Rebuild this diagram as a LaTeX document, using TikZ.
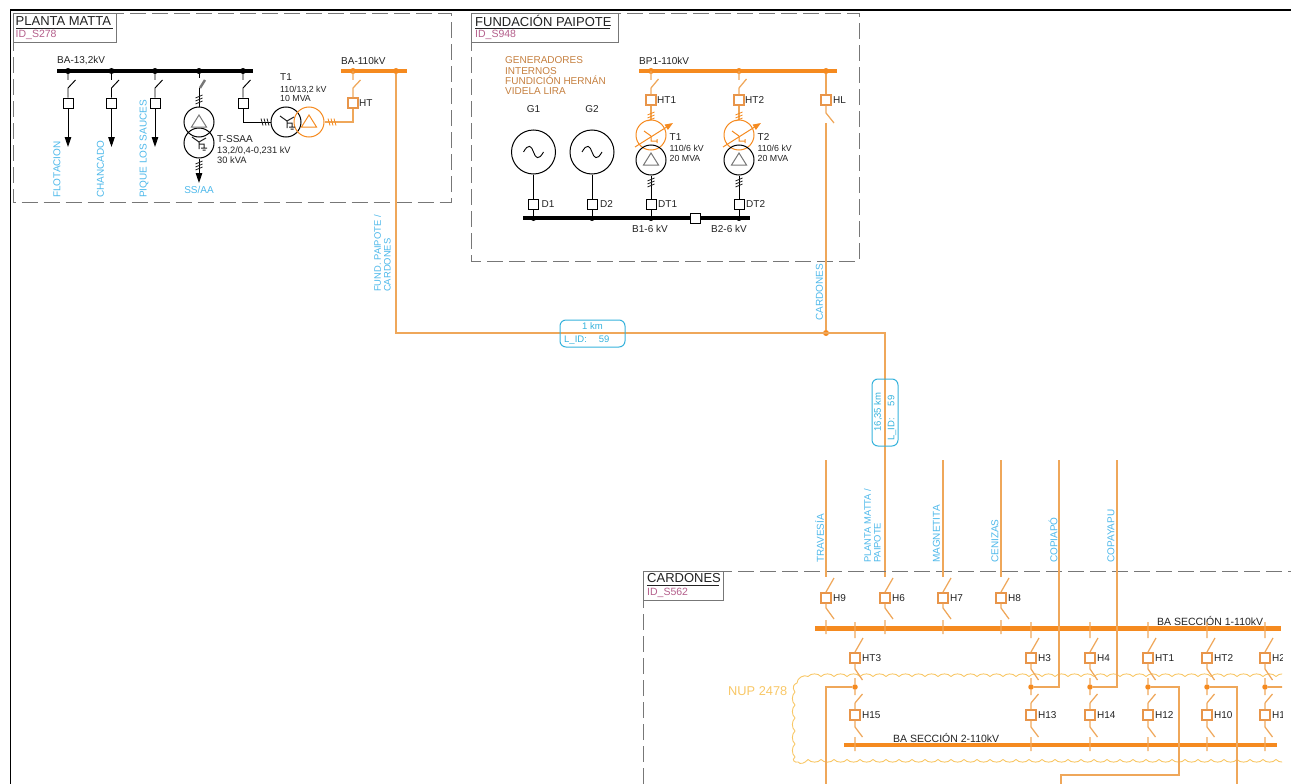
\documentclass[tikz,border=0pt]{standalone}
\usepackage{fontspec}
\setmainfont{Liberation Sans}
\usetikzlibrary{arrows.meta}
\definecolor{lineor}{HTML}{EFA75A}
\definecolor{busor}{HTML}{F58A1F}
\definecolor{txtor}{HTML}{E8954A}
\definecolor{cloudor}{HTML}{F8C766}
\definecolor{blu}{HTML}{4DB8EA}
\definecolor{tagblu}{HTML}{35B2DC}
\definecolor{pnk}{HTML}{B5608C}
\definecolor{gry}{HTML}{777777}
\definecolor{dark}{HTML}{222222}
\newcommand{\fs}[2][]{\fontsize{#2}{#2}\selectfont}
\tikzset{
  x=1pt,y=-1pt,
  lbl/.style={inner sep=0pt,text=dark,font=\fs{10},anchor=west},
  sublbl/.style={inner sep=0pt,text=dark,font=\fontsize{8.8}{9.8}\selectfont,anchor=north west,align=left},
  bluelbl/.style={inner sep=0pt,text=blu,font=\fs{10},rotate=90,anchor=west},
  brk/.style={draw=black,fill=white,line width=0.95pt,minimum size=10pt,inner sep=0pt},
  brkor/.style={draw=txtor,fill=white,line width=1.25pt,minimum size=10pt,inner sep=0pt},
  wire/.style={draw=#1,line width=1.25pt},
  zone/.style={draw=gry,line width=0.9pt,dash pattern=on 16pt off 6pt},
  titlebox/.style={draw=gry,fill=white,line width=0.9pt},
  title/.style={inner sep=0pt,text=dark,font=\fs{13},anchor=west},
  idtxt/.style={inner sep=0pt,text=pnk,font=\fs{10.5},anchor=west},
  busblk/.style={draw=black,line width=3.4pt},
  busora/.style={draw=busor,line width=3.4pt},
  busbig/.style={draw=busor,line width=4.4pt},
  dot/.style={circle,fill=#1,inner sep=0pt,minimum size=6pt},
  tag/.style={draw=tagblu,line width=1pt,rounded corners=6pt,inner sep=0pt},
  tagtxt/.style={inner sep=0pt,text=tagblu,font=\fs{9.5}},
  arr/.style={draw=black,line width=0.95pt,-{Triangle[length=10pt,width=6.5pt]}},
  cloud/.style={draw=cloudor,line width=0.9pt},
}
\newcommand{\vticks}[3]{\draw[#3,line width=0.8pt] (#1-3.5,#2-1) -- (#1+3.5,#2-4) (#1-3.5,#2+2) -- (#1+3.5,#2-1) (#1-3.5,#2+5) -- (#1+3.5,#2+2);}
\newcommand{\hticks}[3]{\draw[#3,line width=0.8pt] (#1-3,#2-3.5) -- (#1-1,#2+3.5) (#1,#2-3.5) -- (#1+2,#2+3.5) (#1+3,#2-3.5) -- (#1+5,#2+3.5);}
\newcommand{\delt}[3]{\draw[#3,line width=1pt] (#1,#2-7) -- (#1+7.5,#2+5) -- (#1-7.5,#2+5) -- cycle;}
\newcommand{\wye}[3]{\draw[#3,line width=1pt] (#1-7,#2-6) -- (#1,#2-1) -- (#1+7,#2-5) (#1,#2-1) -- (#1,#2+6) (#1,#2+1) -- (#1+5,#2+1) -- (#1+5,#2+5) (#1+2,#2+5) -- (#1+8,#2+5) (#1+3.5,#2+7) -- (#1+6.5,#2+7);}
\newcommand{\sw}[4]{\draw[line width=0.95pt,#4] (#1,#2) -- (#1,#2+9) (#1,#2+17) -- (#1+7.5,#2+9) (#1,#2+17) -- (#3.north);}
\begin{document}
\begin{tikzpicture}
\useasboundingbox (0,0) rectangle (1291,784);
\coordinate (frameA) at (10.5,784);
\coordinate (frameB) at (10.5,10);
\coordinate (frameC) at (1291,10);
\draw[black,line width=1.6pt] (frameA) -- (frameB) -- (frameC);

%% PLANTA MATTA
\draw[zone] (13,13) rectangle (451,202.5);
\draw[titlebox] (13,13) rectangle (116,42);
\node[title] (pmT) at (15.5,21) {PLANTA MATTA};
\draw[dark,line width=0.9pt] (16,28) -- (113,28);
\node[idtxt] (pmI) at (15.5,34.5) {ID\_S278};
\node[lbl] (bus13l) at (57,61) {BA-13,2kV};
\coordinate (b13a) at (57,71); \coordinate (b13b) at (253,71);
\draw[busblk] (b13a) -- (b13b);
\foreach \x/\n in {68/a,111.5/b,155/c,199/d,243/e}{\node[dot=black] (bk\n) at (\x,71) {};}
\foreach \x/\n in {68/a,111.5/b,155/c}{
  \node[brk] (pm\n) at (\x,103) {};
  \sw{\x}{71}{pm\n}{black}
  \coordinate (pmend\n) at (\x,147);
  \draw[arr] (pm\n.south) -- (pmend\n);
}
\node[brk] (pme) at (243,103) {};
\sw{243}{71}{pme}{black}
\node[bluelbl] (fl1) at (57,198) {FLOTACION};
\node[bluelbl] (fl2) at (100.5,198) {CHANCADO};
\node[bluelbl] (fl3) at (144,198) {PIQUE LOS SAUCES};
% T-SSAA
\node[circle,draw=black,line width=1pt,minimum size=30pt,inner sep=0pt] (ss1) at (199,122) {};
\node[circle,draw=black,line width=1pt,minimum size=30pt,inner sep=0pt] (ss2) at (199,143) {};
\delt{199}{122}{gry}
\wye{199}{143}{dark}
\draw[black,line width=0.95pt] (bkd) -- (199,78);
\draw[gry,line width=2.4pt] (200,88) -- (205,80);
\draw[black,line width=0.95pt] (199,88) -- (ss1.north);
\vticks{199}{99}{dark}
\coordinate (ssend) at (199,183);
\draw[arr] (ss2.south) -- (ssend);
\vticks{199}{165}{dark}
\node[inner sep=0pt,text=blu,font=\fs{10}] (ssl) at (199,189.5) {SS/AA};
\node[lbl] (tss) at (217,139) {T-SSAA};
\node[sublbl,font=\fontsize{9.3}{10.3}\selectfont] (tssd) at (217,146.5) {13,2/0,4-0,231 kV\\30 kVA};
% T1 Planta
\node[circle,draw=black,line width=1pt,minimum size=30pt,inner sep=0pt] (pt1) at (286,122) {};
\node[circle,draw=busor,line width=1pt,minimum size=30pt,inner sep=0pt] (pt2) at (309,122) {};
\wye{287}{122}{dark}
\delt{309}{122}{busor}
\draw[black,line width=0.95pt] (pme.south) |- (pt1.west);
\hticks{264}{122}{dark}
\node[lbl] (pt1l) at (280,77.5) {T1};
\node[sublbl] (pt1d) at (280,85.5) {110/13,2 kV\\10 MVA};
\node[lbl] (bus110l) at (341,61) {BA-110kV};
\coordinate (b110a) at (341,71); \coordinate (b110b) at (407,71);
\draw[busora] (b110a) -- (b110b);
\node[dot=busor] (o1) at (353,71) {};
\node[dot=busor] (o2) at (396,71) {};
\node[brkor] (pmht) at (353,103) {};
\sw{353}{71}{pmht}{wire=lineor}
\draw[wire=lineor] (pt2.east) -| (pmht.south);
\hticks{331}{122}{busor}
\node[lbl] (pmhtl) at (359,103) {HT};

%% FUNDACION PAIPOTE
\draw[zone] (471,13) rectangle (859,261);
\draw[titlebox] (471,13) rectangle (618,42);
\node[title] (fpT) at (475,21) {FUNDACIÓN PAIPOTE};
\draw[dark,line width=0.9pt] (475,28) -- (610,28);
\node[idtxt] (fpI) at (475,34.5) {ID\_S948};
\node[inner sep=0pt,text=txtor!85!black,font=\fontsize{10}{10.4}\selectfont,align=left,anchor=north west] (gen) at (505,56.5) {GENERADORES\\INTERNOS\\FUNDICIÓN HERNÁN\\VIDELA LIRA};
\node[inner sep=0pt,text=dark,font=\fs{10}] (g1l) at (533.5,109) {G1};
\node[inner sep=0pt,text=dark,font=\fs{10}] (g2l) at (592,109) {G2};
\foreach \x/\n in {533.5/1,592/2}{
  \node[circle,draw=black,line width=1pt,minimum size=44pt,inner sep=0pt] (g\n) at (\x,152) {};
  \draw[black,line width=0.9pt] (\x-10,152) .. controls (\x-5,143) and (\x-2,146) .. (\x,152) .. controls (\x+2,158) and (\x+5,161) .. (\x+10,152);
  \node[brk] (d\n) at (\x,204) {};
  \node[lbl] (d\n l) at (\x+8,204) {D\n};
  \draw[black,line width=0.95pt] (g\n.south) -- (d\n.north);
}
\coordinate (b6a) at (523,218); \coordinate (b6b) at (750,218);
\draw[busblk] (b6a) -- (b6b);
\node[brk] (tie) at (695,218) {};
\foreach \x/\n in {533.5/1,592/2,651/3,739/4}{\node[dot=black,minimum size=5pt] (bb\n) at (\x,218.5) {};}
\draw[black,line width=0.95pt] (d1.south) -- (bb1) (d2.south) -- (bb2);
\node[lbl] (b16) at (632,228.5) {B1-6 kV};
\node[lbl] (b26) at (711,228.5) {B2-6 kV};
\node[lbl] (bp1l) at (639,61) {BP1-110kV};
\coordinate (bp1a) at (639,71); \coordinate (bp1b) at (837,71);
\draw[busora] (bp1a) -- (bp1b);
\foreach \x/\n/\bb in {651/1/3,739/2/4}{
  \node[dot=busor] (bo\n) at (\x,71) {};
  \node[brkor] (ht\n) at (\x,100) {};
  \node[lbl] (ht\n l) at (\x+6,100) {HT\n};
  \draw[wire=lineor] (\x,71) -- (\x,80) (\x,88) -- (\x+7.5,79) (\x,88) -- (ht\n.north);
  \node[circle,draw=busor,line width=1pt,minimum size=30pt,inner sep=0pt] (to\n) at (\x,135) {};
  \node[circle,draw=black,line width=1pt,minimum size=30pt,inner sep=0pt] (tb\n) at (\x,160) {};
  \draw[wire=lineor] (ht\n.south) -- (to\n.north);
  \vticks{\x}{116}{busor}
  \draw[busor,line width=1pt,-{Triangle[length=8pt,width=6pt]}] (\x-16,147) -- (\x+22,123);
  \draw[busor,line width=1pt] (\x-7,131) -- (\x,136) (\x,136) -- (\x,141) -- (\x+6,141) (\x+6,139) -- (\x+6,143);
  \delt{\x}{160}{gry}
  \node[brk] (dt\n) at (\x,204) {};
  \node[lbl] (dt\n l) at (\x+7,204) {DT\n};
  \draw[black,line width=0.95pt] (tb\n.south) -- (dt\n.north) (dt\n.south) -- (bb\bb);
  \vticks{\x}{182}{dark}
  \node[lbl] (t\n l) at (\x+18.5,137) {T\n};
  \node[sublbl] (t\n d) at (\x+18.5,145) {110/6 kV\\20 MVA};
}
\node[dot=busor] (bo3) at (826,71) {};
\node[brkor] (hl) at (826,100) {};
\node[lbl] (hll) at (833,100) {HL};
\draw[wire=lineor] (bo3) -- (hl.north);
\draw[wire=lineor] (hl.south) -- (826,113) -- (834,123);
\coordinate (cd1) at (826,123);
\node[dot=busor] (cdj) at (826,333) {};
\draw[wire=lineor] (cd1) -- (cdj);
\node[bluelbl] (cdl) at (819.5,321) {CARDONES};

%% lines between substations
\coordinate (bend1) at (396,333);
\coordinate (bend2) at (885,333);
\coordinate (h6top) at (885,577);
\draw[wire=lineor] (o2) -- (bend1) -- (bend2) -- (h6top);
\node[inner sep=0pt,text=blu,font=\fontsize{9.4}{9.8}\selectfont,align=left,rotate=90,anchor=south west] (fund) at (391,292) {FUND. PAIPOTE /\\CARDONES};
\node[tag,minimum width=65pt,minimum height=27pt] (tag1) at (592.5,333.5) {};
\node[tagtxt] (tag1a) at (592.5,326) {1 km};
\node[tagtxt,anchor=west] (tag1b) at (564,340.5) {L\_ID:\hspace{12pt}59};
\node[tag,rotate=90,minimum width=67pt,minimum height=26pt] (tag2) at (885,412.5) {};
\node[tagtxt,rotate=90] (tag2a) at (878,412) {16,35 km};
\node[tagtxt,rotate=90,anchor=west] (tag2b) at (892,441) {L\_ID:\hspace{12pt}59};

%% CARDONES
\coordinate (zc1) at (643,784); \coordinate (zc2) at (643,571); \coordinate (zc3) at (1291,571);
\draw[zone] (zc1) -- (zc2) -- (zc3);
\draw[titlebox] (643,571) rectangle (723,600);
\node[title] (caT) at (647,578) {CARDONES};
\draw[dark,line width=0.9pt] (647,585) -- (719,585);
\node[idtxt] (caI) at (647,592.5) {ID\_S562};
\begin{scope}
\clip (0,0) rectangle (1282,784);
\foreach \i in {0,...,36}{
  \pgfmathsetmacro{\xa}{808+13*\i}
  \draw[cloud] (\xa,676.5) .. controls (\xa+3,673) and (\xa+10,673) .. (\xa+13,676.5);
  \draw[cloud] (\xa,759.5) .. controls (\xa+3,763) and (\xa+10,763) .. (\xa+13,759.5);
}
\foreach \i in {0,...,4}{
  \pgfmathsetmacro{\ya}{692+13*\i}
  \draw[cloud] (795,\ya) .. controls (791.5,\ya+3) and (791.5,\ya+10) .. (795,\ya+13);
}
\draw[cloud] (795,692) .. controls (791,686) and (795,684) .. (797,683) .. controls (797,678) and (804,674) .. (808,676.5);
\draw[cloud] (795,757) .. controls (791,760) and (795,763) .. (798,762) .. controls (800,765) and (805,763) .. (808,759.5);
\coordinate (b1a) at (815,628.5); \coordinate (b1b) at (1281,628.5);
\coordinate (b2a) at (844,745); \coordinate (b2b) at (1277,745);
\draw[busbig] (b1a) -- (b1b);
\draw[busbig] (b2a) -- (b2b);
\node[lbl,font=\fs{10.5}] (b1l) at (1157,621) {BA SECCIÓN 1-110kV};
\node[lbl,font=\fs{10.5}] (b2l) at (893,738) {BA SECCIÓN 2-110kV};
\foreach \x/\n in {826/H9,885/H6,943/H7,1001/H8}{
  \node[brkor] (\n) at (\x,598) {};
  \node[lbl] (\n l) at (\x+7,598) {\n};
  \draw[wire=lineor] (\x,592) -- (\x+8,578) (\x,592) -- (\n.north) (\n.south) -- (\x,608) -- (\x+8,619) (\x,620) -- (\x,634);
}
\foreach \x in {826,943,1001}{\draw[wire=lineor] (\x,460) -- (\x,577);}
\foreach \x/\u/\v in {855/HT3/H15,1031/H3/H13,1090/H4/H14,1148/HT1/H12,1207/HT2/H10,1265/H2/H1}{
  \node[brkor] (\u) at (\x,658) {};
  \node[lbl] (\u l) at (\x+7,658) {\u};
  \node[brkor] (\v) at (\x,715) {};
  \node[lbl] (\v l) at (\x+7,715) {\v};
  \node[dot=busor,minimum size=5.5pt] (j\u) at (\x,687) {};
  \draw[wire=lineor] (\x,622) -- (\x,638) (\x,652) -- (\x+8,638) (\x,652) -- (\u.north) (\u.south) -- (\x,669) -- (\x+7.5,680) (\x,678) -- (j\u) -- (\x,695) (\x,703) -- (\x+7.5,694) (\x,703) -- (\v.north) (\v.south) -- (\x,727) -- (\x+7.5,737) (\x,737) -- (\x,751);
}
\coordinate (w1) at (826,687); \coordinate (w1e) at (826,784);
\coordinate (w2) at (1059,687); \coordinate (w2e) at (1059,460);
\coordinate (w3) at (1117,687); \coordinate (w3e) at (1117,460);
\coordinate (w4) at (1179,687); \coordinate (w4b) at (1179,775); \coordinate (w4c) at (1061,775); \coordinate (w4e) at (1061,784);
\coordinate (w5) at (1237,687); \coordinate (w5e) at (1237,784);
\coordinate (w6) at (1283,687);
\draw[wire=lineor] (jHT3) -- (w1) -- (w1e);
\draw[wire=lineor] (jH3) -- (w2) -- (w2e);
\draw[wire=lineor] (jH4) -- (w3) -- (w3e);
\draw[wire=lineor] (jHT1) -- (w4) -- (w4b) -- (w4c) -- (w4e);
\draw[wire=lineor] (jHT2) -- (w5) -- (w5e);
\draw[wire=lineor] (jH2) -- (w6);
\end{scope}
\node[inner sep=0pt,text=cloudor,font=\fs{12.8},anchor=west] (nup) at (728,691) {NUP 2478};
\node[bluelbl] (f1) at (819.5,563) {TRAVESÍA};
\node[inner sep=0pt,text=blu,font=\fontsize{9.4}{9.8}\selectfont,align=left,rotate=90,anchor=south west] (f2) at (881,563) {PLANTA MATTA /\\PAIPOTE};
\node[bluelbl] (f3) at (936.5,563) {MAGNETITA};
\node[bluelbl] (f4) at (995,563) {CENIZAS};
\node[bluelbl] (f5) at (1053,563) {COPIAPÓ};
\node[bluelbl] (f6) at (1111,563) {COPAYAPU};
\end{tikzpicture}
\end{document}
